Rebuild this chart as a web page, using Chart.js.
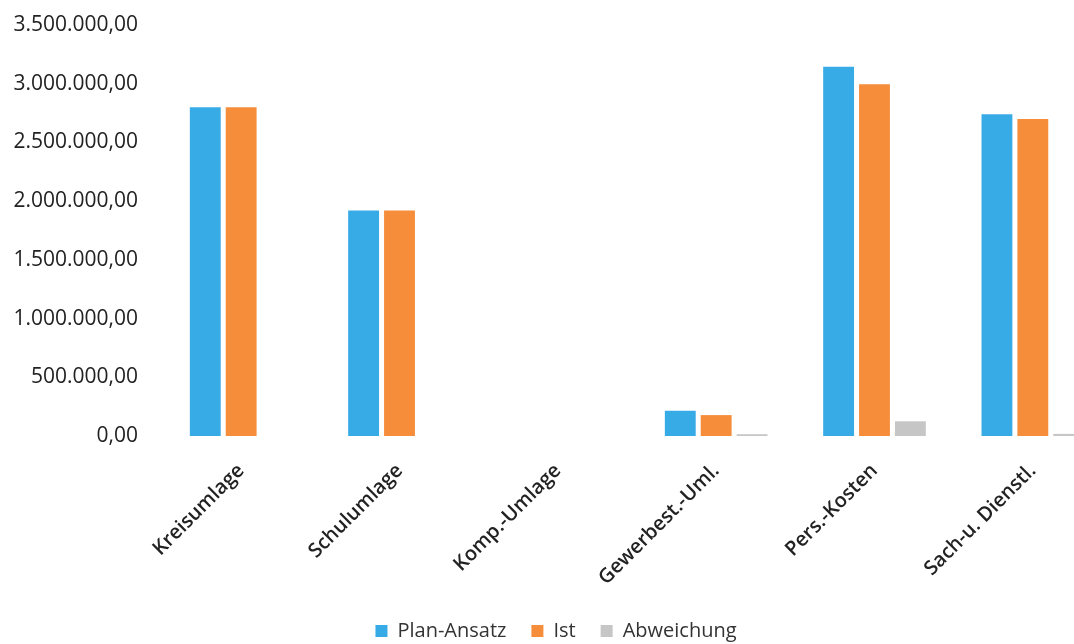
<!DOCTYPE html>
<html>
<head>
<meta charset="utf-8">
<script src="https://cdn.jsdelivr.net/npm/chart.js@4"></script>
<style>
    html, body { margin: 0; padding: 0; background: #fff; overflow: hidden; }
    #wrap { position: relative; width: 1140px; height: 651px; }
</style>
</head>
<body>
<div id="wrap"><canvas id="chart"></canvas></div>
<script>
// Daten
const kategorien = ['Kreisumlage', 'Schulumlage', 'Komp.-Umlage', 'Gewerbest.-Uml.', 'Pers.-Kosten', 'Sach-u. Dienstl.'];
const planAnsatz = [2800000, 1920000, 0, 215000, 3145000, 2740000];
const ist = [2800000, 1920000, 0, 178000, 2995000, 2700000];
const abweichung = [0, 0, 0, 15000, 125000, 18000];
const yTicks = [0, 500000, 1000000, 1500000, 2000000, 2500000, 3000000, 3500000];

const fmt = new Intl.NumberFormat('de-DE', { minimumFractionDigits: 2, maximumFractionDigits: 2 });

const ctx = document.getElementById('chart').getContext('2d');
window.haushaltChart = new Chart(ctx, {
    type: 'bar',
    data: {
        labels: kategorien,
        datasets: [
            { label: 'Plan-Ansatz', data: planAnsatz, backgroundColor: '#37abe6' },
            { label: 'Ist', data: ist, backgroundColor: '#f58d3b' },
            { label: 'Abweichung', data: abweichung, backgroundColor: '#c6c6c6' }
        ]
    },
    options: {
        responsive: true,
        maintainAspectRatio: false,
        animation: false,
        categoryPercentage: 0.68,
        barPercentage: 0.86,
        layout: { padding: { left: 0, right: 28, top: 0, bottom: 0 } },
        plugins: {
            tooltip: { enabled: false },
            legend: {
                position: 'bottom',
                labels: {
                    boxWidth: 12,
                    boxHeight: 12,
                    padding: 25,
                    color: '#333',
                    font: { family: 'Open Sans', size: 20 }
                }
            }
        },
        scales: {
            x: {
                grid: { display: false, drawTicks: false },
                border: { display: false },
                ticks: {
                    maxRotation: 45,
                    minRotation: 45,
                    padding: 23,
                    color: '#222',
                    font: { family: 'Open Sans', size: 20, weight: '600' }
                },
                afterFit: function(scale) { scale.height = 160; }
            },
            y: {
                min: 0,
                max: 3500000,
                grid: { display: false, drawTicks: false },
                border: { display: false },
                afterBuildTicks: function(scale) {
                    scale.ticks = yTicks.map(v => ({ value: v }));
                },
                afterFit: function(scale) {
                    scale.width = 162;
                    scale.paddingTop = 25;
                    scale.paddingBottom = 13;
                },
                ticks: {
                    padding: 24,
                    color: '#222',
                    font: { family: 'Open Sans', size: 21 },
                    callback: function(value) { return fmt.format(value); }
                }
            }
        }
    }
});
</script>
</body>
</html>
